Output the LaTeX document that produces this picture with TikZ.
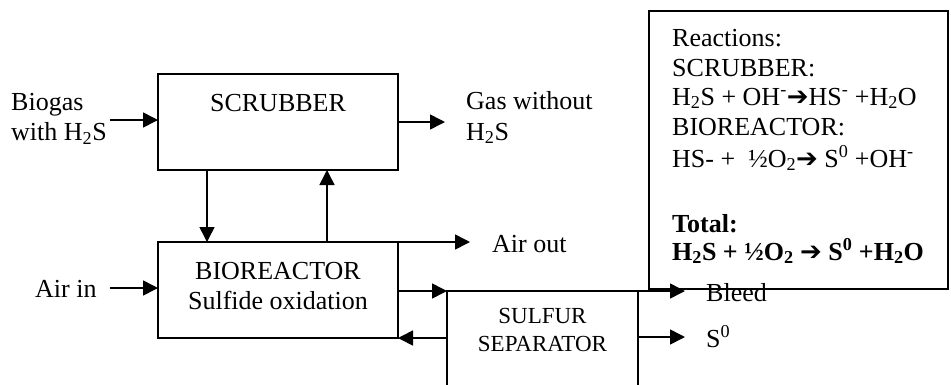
\documentclass[tikz,border=0pt]{standalone}
\usepackage{fontspec}
\setmainfont{Liberation Serif}
\newfontfamily\arrowfont{DejaVu Sans}
\usetikzlibrary{arrows.meta}
\newcommand{\rarr}{{\arrowfont\char"2794}}
\begin{document}
\begin{tikzpicture}[x=1pt,y=-1pt,
  box/.style={draw, line width=1.6pt, inner sep=0pt, outer sep=0pt},
  flow/.style={line width=1.6pt, -{Triangle[length=15pt,width=15pt]}},
  txt/.style={anchor=base west, inner sep=0pt, font=\fontsize{26}{30.5}\selectfont},
  ctxt/.style={anchor=base, inner sep=0pt, font=\fontsize{26}{30.5}\selectfont},
  stxt/.style={anchor=base, inner sep=0pt, font=\fontsize{23}{28}\selectfont},
]
\useasboundingbox (0,0) rectangle (951,384);
\clip (0,0) rectangle (951,384);

% boxes
\node[box, minimum width=240pt, minimum height=96pt] (scrub) at (278,122) {};
\node[box, minimum width=240pt, minimum height=96pt] (bio) at (278,290) {};
\node[box, minimum width=191pt, minimum height=140pt] (sep) at (542.5,361) {};

% box texts
\node[ctxt] (tscrub) at (278,111) {SCRUBBER};
\node[ctxt] (tbio1) at (278,279) {BIOREACTOR};
\node[ctxt] (tbio2) at (278,309) {Sulfide oxidation};
\node[stxt] (tsep1) at (542.5,323) {SULFUR};
\node[stxt] (tsep2) at (542.5,351) {SEPARATOR};

% outer labels
\node[txt] (lbio1) at (11,110) {Biogas};
\node[txt] (lbio2) at (11,140.5) {with H\textsubscript{2}S};
\node[txt] (lgas1) at (466,109.5) {Gas without};
\node[txt] (lgas2) at (466,140) {H\textsubscript{2}S};
\node[txt] (lairout) at (492,252) {Air out};
\node[txt] (lairin) at (35,297) {Air in};
\node[txt] (lbleed) at (706,301) {Bleed};
\node[txt] (ls0) at (706,347) {S\textsuperscript{0}};

% connector ends
\coordinate (bgin) at (110,120);
\coordinate (gasout) at (445,122);
\coordinate (airout) at (470,242);
\coordinate (airin) at (110,288);
\coordinate (bleed) at (685,291);
\coordinate (s0) at (685,337);

% connectors
\draw[flow] (bgin) -- (bgin -| scrub.west);
\draw[flow] (scrub.east) -- (gasout);
\draw[flow] ([xshift=-71pt]scrub.south) -- ([xshift=-71pt]bio.north);
\draw[flow] ([xshift=49pt]bio.north) -- ([xshift=49pt]scrub.south);
\draw[flow] (bio.north east) -- (airout);
\draw[flow] (airin) -- (airin -| bio.west);
\draw[flow] (sep.north west -| bio.east) -- (sep.north west);
\draw[flow] (bio.south east -| sep.west) -- (bio.south east);
\draw[flow] (sep.north east) -- (bleed);
\draw[flow] (s0 -| sep.east) -- (s0);

% reactions box
\node[box, minimum width=299pt, minimum height=278pt] (reac) at (798.5,150) {};
\node[txt] (r1) at (672,46) {Reactions:};
\node[txt] (r2) at (672,76) {SCRUBBER:};
\node[txt] (r3) at (672,105) {H\textsubscript{2}S + OH\textsuperscript{-}\rarr HS\textsuperscript{-} +H\textsubscript{2}O};
\node[txt] (r4) at (672,135) {BIOREACTOR:};
\node[txt] (r5) at (672,167) {HS- +\ \ ½O\textsubscript{2}\rarr{} S\textsuperscript{0} +OH\textsuperscript{-}};
\node[txt] (r6) at (672,232) {\bfseries Total:};
\node[txt] (r7) at (672,260) {\bfseries H\textsubscript{2}S + ½O\textsubscript{2} \rarr{} S\textsuperscript{0} +H\textsubscript{2}O};
\end{tikzpicture}
\end{document}
